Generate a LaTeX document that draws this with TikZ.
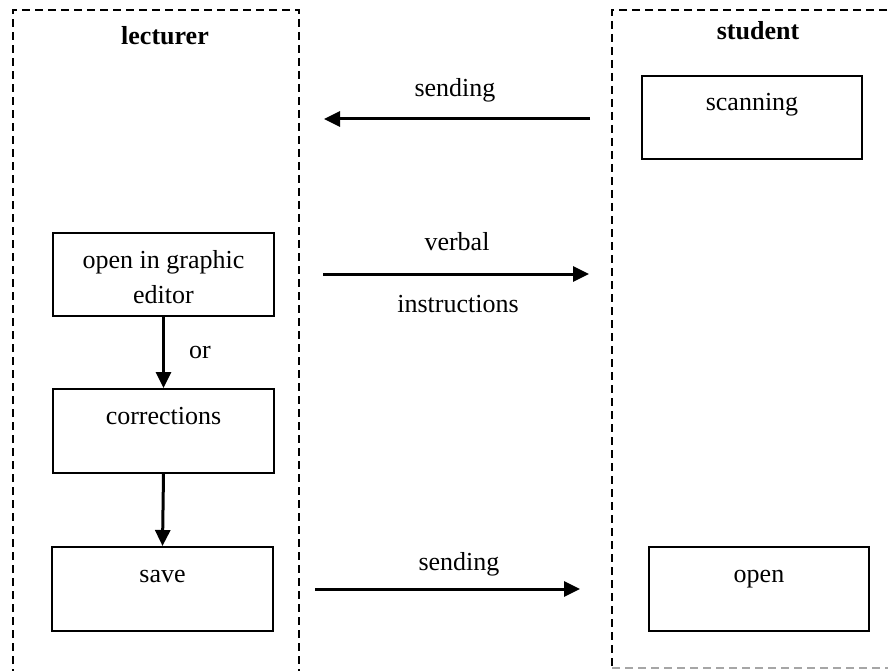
\documentclass[tikz,border=0pt]{standalone}
\usepackage{fontspec}
\setmainfont{Liberation Serif}
\usetikzlibrary{arrows.meta}
\begin{document}
\begin{tikzpicture}[x=1pt,y=-1pt,
  every node/.style={font=\fontsize{26}{35}\selectfont},
  pbox/.style={draw,line width=2pt,minimum width=221pt,minimum height=83pt,anchor=north west,inner sep=0pt},
  lane/.style={line width=2pt,dash pattern=on 8pt off 5pt},
  flow/.style={line width=3pt,-{Triangle[length=16pt,width=15pt]}},
  txt/.style={anchor=base,inner sep=0pt,align=center},
  ttl/.style={txt,font=\fontsize{26}{35}\selectfont\bfseries}]
\useasboundingbox (0,0) rectangle (888,671);
\fill[white] (0,0) rectangle (888,671);
\clip (0,0) rectangle (888,671);
% swimlanes
\draw[lane] (13,690) -- (13,10) -- (299,10) -- (299,690);
\draw[lane] (900,10) -- (612,10) -- (612,668);
\draw[lane,gray!70] (612,668) -- (900,668);
\node[ttl] (lect) at (165,45) {lecturer};
\node[ttl] (stud) at (758,40) {student};
% boxes
\node[pbox,minimum width=220pt] (scan) at (641,75) {};
\node[txt] (scant) at ([yshift=-36pt]scan.north) {scanning};
\node[pbox] (edit) at (52,232) {};
\node[txt] (editt) at ([yshift=-71pt]edit.north) {open in graphic\\editor};
\node[pbox,minimum height=84pt] (corr) at (52,388) {};
\node[txt] (corrt) at ([yshift=-36pt]corr.north) {corrections};
\node[pbox,minimum height=84pt] (save) at (51,546) {};
\node[txt] (savet) at ([yshift=-36pt]save.north) {save};
\node[pbox,minimum width=220pt,minimum height=84pt] (open) at (648,546) {};
\node[txt] (opent) at ([yshift=-36pt]open.north) {open};
% vertical flow
\draw[flow] (edit.south) -- (corr.north);
\node[txt] (or) at (200,358) {or};
\draw[flow] (corr.south) -- (save.north);
% horizontal messages
\coordinate (s1a) at (590,119);
\coordinate (s1b) at (324,119);
\draw[flow] (s1a) -- (s1b);
\node[txt] (s1t) at (455,97) {sending};
\coordinate (v1a) at (323,274);
\coordinate (v1b) at (589,274);
\draw[flow] (v1a) -- (v1b);
\node[txt] (v1t) at (457,250) {verbal};
\node[txt] (v2t) at (458,312) {instructions};
\coordinate (s2a) at (315,589);
\coordinate (s2b) at (580,589);
\draw[flow] (s2a) -- (s2b);
\node[txt] (s2t) at (459,570) {sending};
\end{tikzpicture}
\end{document}
